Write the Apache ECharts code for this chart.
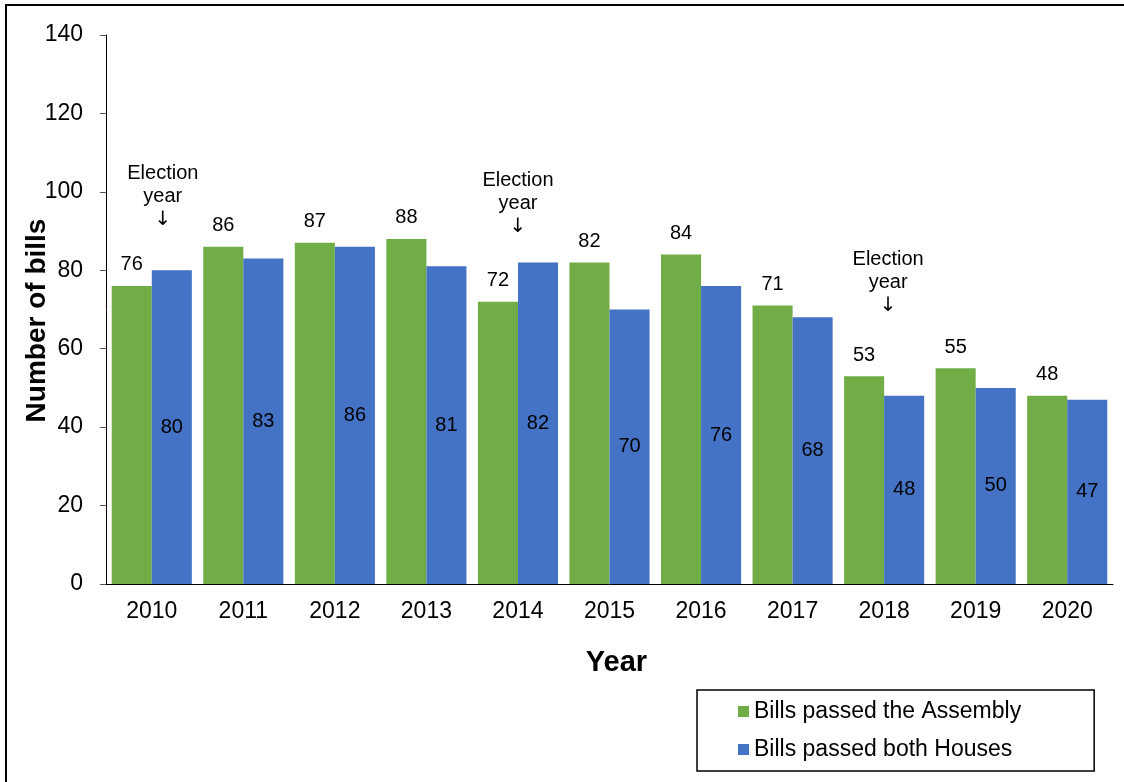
<!DOCTYPE html>
<html>
<head>
<meta charset="utf-8">
<script src="https://cdn.jsdelivr.net/npm/echarts@6/dist/echarts.min.js"></script>
<style>
html,body{margin:0;padding:0;background:#fff;}
#frame{position:absolute;left:5px;top:4px;width:1200px;height:900px;border-left:2px solid #000;border-top:2px solid #000;pointer-events:none;}
#chart{position:absolute;left:0;top:0;width:1124px;height:782px;}
</style>
</head>
<body>
<div id="chart"></div>
<div id="frame"></div>
<script>
const years = ['2010','2011','2012','2013','2014','2015','2016','2017','2018','2019','2020'];
const assembly = [76,86,87,88,72,82,84,71,53,55,48];
const bothHouses = [80,83,86,81,82,70,76,68,48,50,47];
const electionYears = ['2010','2014','2018'];
const electionLabelValues = [90,88.2,68];
const yTicks = {min:0, max:140, interval:20};

const font = 'Liberation Sans, Arial, sans-serif';
const electionOffsets = [-9,-20,-16];
const chart = echarts.init(document.getElementById('chart'));
chart.setOption({
  animation:false,
  textStyle:{fontFamily:font},
  grid:{left:106, top:35, right:11, bottom:198, outerBoundsMode:'none'},
  legend:{
    orient:'vertical', left:697, top:690,
    padding:[10,73,10,41],
    borderColor:'#000', borderWidth:1.5,
    itemWidth:11, itemHeight:11, itemGap:15,
    icon:'rect',
    textStyle:{fontSize:23, color:'#000', lineHeight:23, fontFamily:font},
    data:['Bills passed the Assembly','Bills passed both Houses']
  },
  xAxis:{
    type:'category', data:years,
    name:'Year', nameLocation:'middle', nameGap:64, nameMoveOverlap:false,
    nameTextStyle:{fontSize:29, fontWeight:'bold', color:'#000', padding:[0,0,0,14]},
    axisLine:{lineStyle:{color:'#000', width:1}},
    axisTick:{length:6, lineStyle:{color:'#555'}},
    axisLabel:{fontSize:23, color:'#000', margin:16}
  },
  yAxis:{
    type:'value', min:yTicks.min, max:yTicks.max, interval:yTicks.interval,
    name:'Number of bills', nameLocation:'middle', nameGap:55, nameMoveOverlap:false,
    nameTextStyle:{fontSize:28, fontWeight:'bold', color:'#000', padding:[0,22,0,0]},
    axisLine:{show:true, lineStyle:{color:'#000', width:1}},
    axisTick:{show:true, length:6, lineStyle:{color:'#555'}},
    splitLine:{show:false},
    axisLabel:{fontSize:23, color:'#000', margin:23}
  },
  series:[
    {
      name:'Bills passed the Assembly', type:'bar', data:assembly,
      barGap:'0%', barCategoryGap:'12.5%',
      itemStyle:{color:'#70AD47'},
      label:{show:true, position:'top', distance:11, fontSize:20, color:'#000'}
    },
    {
      name:'Bills passed both Houses', type:'bar', data:bothHouses,
      itemStyle:{color:'#4472C4'},
      label:{show:true, position:'inside', fontSize:20, color:'#000'},
      markPoint:{
        symbol:'rect', symbolSize:0, silent:true,
        label:{show:true, position:'top', distance:0, fontSize:20, color:'#000',
               lineHeight:23, align:'center',
               formatter:'Election\nyear\n{a|↓}',
               rich:{a:{fontFamily:'DejaVu Sans', fontSize:20, lineHeight:23, color:'#000'}}},
        data: electionYears.map((y,i)=>({coord:[y, electionLabelValues[i]],
               label:{offset:[electionOffsets[i],0]}}))
      }
    }
  ]
});
</script>
</body>
</html>
